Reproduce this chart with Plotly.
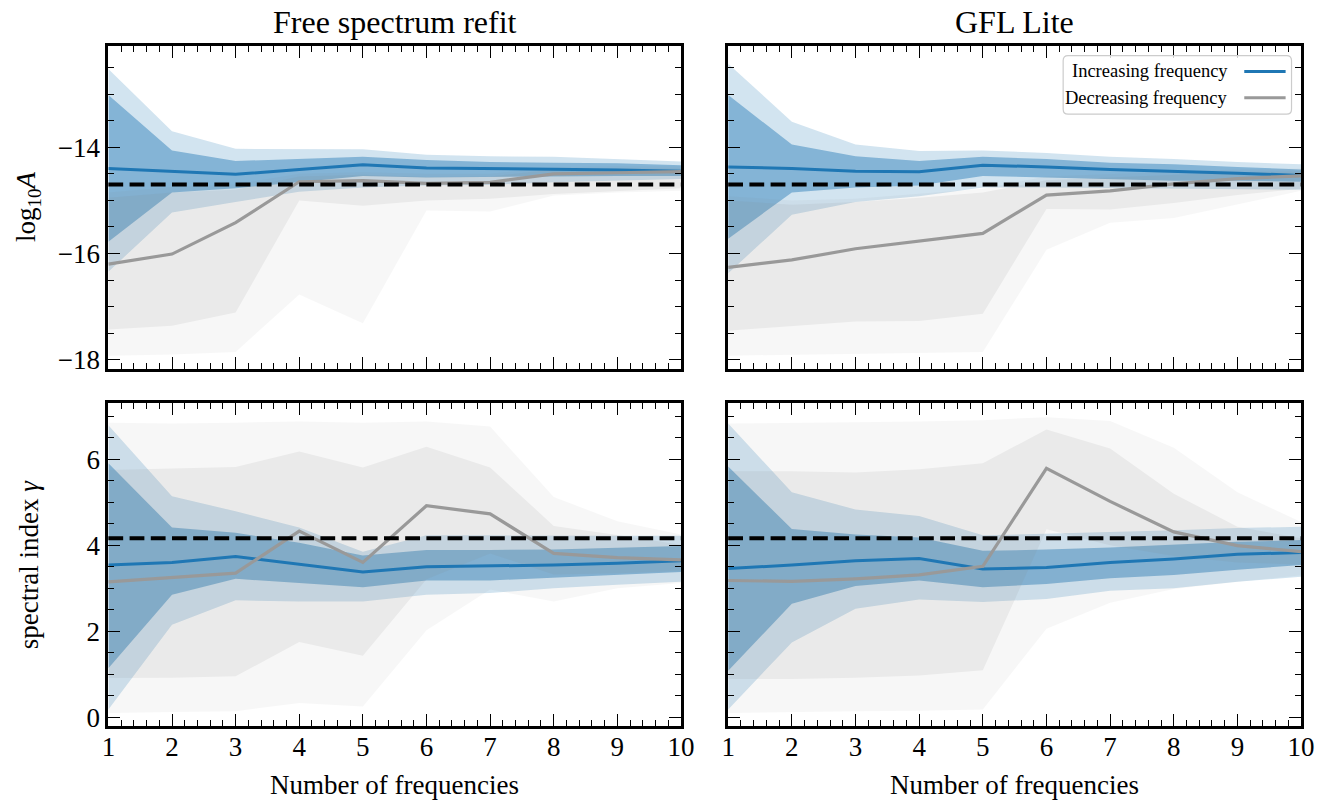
import plotly.graph_objects as go
from plotly.subplots import make_subplots

W, H = 1338, 802

# ---------------- data ----------------
N = [1, 2, 3, 4, 5, 6, 7, 8, 9, 10]

TRUE_LOG10A = -14.7
TRUE_GAMMA = 4.16

# Free spectrum refit, log10 A
inc_med_A_fs = [-14.40, -14.45, -14.51, -14.42, -14.33, -14.39, -14.40, -14.42, -14.43, -14.45]
inc_1hi_A_fs = [-13.02, -14.06, -14.26, -14.22, -14.18, -14.24, -14.28, -14.29, -14.30, -14.34]
inc_1lo_A_fs = [-15.78, -14.85, -14.77, -14.66, -14.54, -14.57, -14.57, -14.55, -14.54, -14.54]
inc_2hi_A_fs = [-12.53, -13.70, -14.03, -14.04, -14.04, -14.14, -14.17, -14.18, -14.22, -14.27]
inc_2lo_A_fs = [-16.34, -15.23, -15.03, -14.84, -14.76, -14.72, -14.71, -14.66, -14.63, -14.60]
dec_med_A_fs = [-16.20, -16.01, -15.42, -14.65, -14.63, -14.68, -14.66, -14.50, -14.48, -14.46]
dec_1hi_A_fs = [-14.95, -14.85, -14.80, -14.55, -14.52, -14.56, -14.55, -14.42, -14.40, -14.40]
dec_1lo_A_fs = [-17.43, -17.36, -17.11, -15.00, -15.10, -15.00, -14.97, -14.88, -14.82, -14.77]
dec_2hi_A_fs = [-14.85, -14.75, -14.70, -14.50, -14.47, -14.50, -14.50, -14.38, -14.36, -14.36]
dec_2lo_A_fs = [-17.92, -17.90, -17.85, -16.77, -17.31, -15.19, -15.21, -14.91, -14.85, -14.82]

# GFL Lite, log10 A
inc_med_A_gfl = [-14.37, -14.40, -14.45, -14.46, -14.34, -14.37, -14.42, -14.45, -14.49, -14.53]
inc_1hi_A_gfl = [-13.02, -13.95, -14.17, -14.26, -14.18, -14.22, -14.29, -14.32, -14.37, -14.42]
inc_1lo_A_gfl = [-15.72, -14.85, -14.76, -14.72, -14.54, -14.57, -14.60, -14.63, -14.63, -14.65]
inc_2hi_A_gfl = [-12.43, -13.52, -13.95, -14.07, -14.06, -14.11, -14.18, -14.22, -14.28, -14.32]
inc_2lo_A_gfl = [-16.37, -15.27, -15.03, -14.92, -14.76, -14.76, -14.76, -14.77, -14.79, -14.80]
dec_med_A_gfl = [-16.26, -16.12, -15.91, -15.77, -15.62, -14.90, -14.82, -14.69, -14.59, -14.54]
dec_1hi_A_gfl = [-15.00, -15.08, -15.03, -14.95, -14.85, -14.62, -14.57, -14.52, -14.47, -14.45]
dec_1lo_A_gfl = [-17.45, -17.36, -17.28, -17.27, -17.13, -15.16, -15.17, -15.05, -14.90, -14.78]
dec_2hi_A_gfl = [-14.92, -15.00, -14.97, -14.88, -14.78, -14.55, -14.50, -14.46, -14.42, -14.40]
dec_2lo_A_gfl = [-17.92, -17.90, -17.88, -17.87, -17.85, -15.93, -15.42, -15.33, -15.07, -14.82]

# Free spectrum refit, gamma
inc_med_g_fs = [3.54, 3.60, 3.74, 3.56, 3.38, 3.50, 3.52, 3.54, 3.58, 3.64]
inc_1hi_g_fs = [5.91, 4.41, 4.29, 4.06, 3.76, 3.89, 3.89, 3.90, 3.94, 3.98]
inc_1lo_g_fs = [1.14, 2.85, 3.22, 3.12, 3.02, 3.18, 3.18, 3.25, 3.31, 3.38]
inc_2hi_g_fs = [6.79, 5.14, 4.79, 4.41, 3.85, 4.23, 4.23, 4.22, 4.22, 4.22]
inc_2lo_g_fs = [0.18, 2.15, 2.72, 2.69, 2.69, 2.85, 2.89, 3.00, 3.08, 3.15]
dec_med_g_fs = [3.15, 3.25, 3.35, 4.33, 3.60, 4.92, 4.73, 3.81, 3.71, 3.66]
dec_1hi_g_fs = [5.75, 5.79, 5.82, 6.18, 5.81, 6.29, 5.81, 4.45, 4.24, 4.01]
dec_1lo_g_fs = [0.91, 0.92, 0.95, 1.75, 1.43, 3.21, 3.81, 3.32, 3.35, 3.40]
dec_2hi_g_fs = [6.85, 6.83, 6.85, 6.88, 6.85, 6.88, 6.76, 5.12, 4.56, 4.25]
dec_2lo_g_fs = [0.10, 0.12, 0.14, 0.33, 0.25, 2.02, 2.97, 2.69, 3.00, 3.12]

# GFL Lite, gamma
inc_med_g_gfl = [3.46, 3.54, 3.64, 3.69, 3.45, 3.48, 3.60, 3.68, 3.79, 3.83]
inc_1hi_g_gfl = [5.83, 4.38, 4.25, 4.18, 3.87, 3.90, 3.95, 4.02, 4.08, 4.12]
inc_1lo_g_gfl = [1.08, 2.64, 3.05, 3.18, 3.02, 3.10, 3.23, 3.31, 3.43, 3.54]
inc_2hi_g_gfl = [6.83, 5.23, 4.83, 4.68, 4.23, 4.27, 4.30, 4.35, 4.40, 4.43]
inc_2lo_g_gfl = [0.18, 1.74, 2.52, 2.74, 2.68, 2.75, 2.94, 3.00, 3.15, 3.27]
dec_med_g_gfl = [3.18, 3.16, 3.22, 3.31, 3.51, 5.79, 5.02, 4.31, 3.99, 3.85]
dec_1hi_g_gfl = [5.72, 5.72, 5.69, 5.77, 5.91, 6.69, 6.25, 5.20, 4.43, 4.16]
dec_1lo_g_gfl = [0.89, 0.89, 0.92, 0.97, 1.09, 4.37, 4.00, 3.75, 3.60, 3.55]
dec_2hi_g_gfl = [6.83, 6.84, 6.86, 6.88, 6.91, 6.98, 6.89, 6.27, 5.23, 4.54]
dec_2lo_g_gfl = [0.10, 0.12, 0.14, 0.15, 0.18, 2.06, 2.66, 2.98, 3.15, 3.30]

col_titles = ["Free spectrum refit", "GFL Lite"]
legend_labels = ["Increasing frequency", "Decreasing frequency"]
x_title = "Number of frequencies"
y_titles = ["log<sub>10</sub><i>A</i>", "spectral index <i>γ</i>"]
x_ticks = [1, 2, 3, 4, 5, 6, 7, 8, 9, 10]
y_ticks_A = [-18, -16, -14]
y_ticks_g = [0, 2, 4, 6]

# ---------------- style ----------------
FONT = "Liberation Serif, Times New Roman, serif"
BLUE = "#1f77b4"
GREY_LINE = "#999999"
BLUE_2S = "rgba(31,119,180,0.20)"
BLUE_1S = "rgba(31,119,180,0.44)"
GREY_2S = "rgba(128,128,128,0.063)"
GREY_1S = "rgba(128,128,128,0.10)"


def px(x):
    return x / W


def py(y):
    return 1 - y / H


def fmt(v):
    return ("\u2212" if v < 0 else "") + str(abs(v))


fig = make_subplots(rows=2, cols=2)

panels = [
    (1, 1, inc_med_A_fs, inc_1lo_A_fs, inc_1hi_A_fs, inc_2lo_A_fs, inc_2hi_A_fs,
     dec_med_A_fs, dec_1lo_A_fs, dec_1hi_A_fs, dec_2lo_A_fs, dec_2hi_A_fs),
    (1, 2, inc_med_A_gfl, inc_1lo_A_gfl, inc_1hi_A_gfl, inc_2lo_A_gfl, inc_2hi_A_gfl,
     dec_med_A_gfl, dec_1lo_A_gfl, dec_1hi_A_gfl, dec_2lo_A_gfl, dec_2hi_A_gfl),
    (2, 1, inc_med_g_fs, inc_1lo_g_fs, inc_1hi_g_fs, inc_2lo_g_fs, inc_2hi_g_fs,
     dec_med_g_fs, dec_1lo_g_fs, dec_1hi_g_fs, dec_2lo_g_fs, dec_2hi_g_fs),
    (2, 2, inc_med_g_gfl, inc_1lo_g_gfl, inc_1hi_g_gfl, inc_2lo_g_gfl, inc_2hi_g_gfl,
     dec_med_g_gfl, dec_1lo_g_gfl, dec_1hi_g_gfl, dec_2lo_g_gfl, dec_2hi_g_gfl),
]


def band(lo, hi, color):
    return go.Scatter(x=N + N[::-1], y=list(hi) + list(lo)[::-1], fill="toself",
                      fillcolor=color, line=dict(width=0), mode="lines",
                      hoverinfo="skip", showlegend=False)


for (r, c, im, i1l, i1h, i2l, i2h, dm, d1l, d1h, d2l, d2h) in panels:
    fig.add_trace(band(i2l, i2h, BLUE_2S), row=r, col=c)
    fig.add_trace(band(i1l, i1h, BLUE_1S), row=r, col=c)
    fig.add_trace(band(d2l, d2h, GREY_2S), row=r, col=c)
    fig.add_trace(band(d1l, d1h, GREY_1S), row=r, col=c)
    fig.add_trace(go.Scatter(x=N, y=im, mode="lines", line=dict(color=BLUE, width=3),
                             showlegend=False), row=r, col=c)
    fig.add_trace(go.Scatter(x=N, y=dm, mode="lines", line=dict(color=GREY_LINE, width=3.2),
                             showlegend=False), row=r, col=c)
    fig.add_hline(y=TRUE_LOG10A if r == 1 else TRUE_GAMMA, row=r, col=c,
                  line=dict(color="black", width=4, dash="14.8px,6.4px"))

xd = [[px(103), px(684.7)], [px(732.7), px(1314.7)]]
yd = [[py(371.7), py(46)], [py(731.7), py(406)]]

axis_common = dict(showline=True, linecolor="black", linewidth=3, mirror="allticks",
                   ticks="inside", ticklen=12, tickwidth=1.4, tickcolor="black",
                   showgrid=False, zeroline=False,
                   tickfont=dict(family=FONT, size=27, color="black"))

for r in (1, 2):
    for c in (1, 2):
        idx = (r - 1) * 2 + c
        xa = "xaxis" if idx == 1 else f"xaxis{idx}"
        ya = "yaxis" if idx == 1 else f"yaxis{idx}"
        fig.layout[xa].update(domain=xd[c - 1], range=[1, 10], tickmode="array",
                              tickvals=x_ticks, ticktext=[fmt(v) for v in x_ticks],
                              showticklabels=(r == 2), ticklabelstandoff=-6,
                              minor=dict(ticks="inside", ticklen=6, tickwidth=1.2,
                                         tickcolor="black", dtick=0.2, tick0=1,
                                         showgrid=False),
                              **axis_common)
        if r == 1:
            yr, t0, tv = [-18.17, -12.09], -18, y_ticks_A
        else:
            yr, t0, tv = [-0.21, 7.31], 0, y_ticks_g
        fig.layout[ya].update(domain=yd[r - 1], range=yr, tickmode="array",
                              tickvals=tv, ticktext=[fmt(v) for v in tv],
                              showticklabels=(c == 1),
                              minor=dict(ticks="inside", ticklen=6, tickwidth=1.2,
                                         tickcolor="black", dtick=0.5, tick0=t0,
                                         showgrid=False),
                              **axis_common)

annotations = []
for c, t in enumerate(col_titles):
    annotations.append(dict(text=t, x=sum(xd[c]) / 2, y=py(22), xref="paper", yref="paper",
                            xanchor="center", yanchor="middle", showarrow=False,
                            font=dict(family=FONT, size=32, color="black")))
for c in range(2):
    annotations.append(dict(text=x_title, x=sum(xd[c]) / 2, y=py(791), xref="paper",
                            yref="paper", xanchor="center", yanchor="middle", showarrow=False,
                            font=dict(family=FONT, size=27, color="black")))
for r, t in enumerate(y_titles):
    annotations.append(dict(text=t, x=px(22), y=sum(yd[r]) / 2, xref="paper", yref="paper",
                            xanchor="center", yanchor="middle", textangle=-90, showarrow=False,
                            font=dict(family=FONT, size=27, color="black")))

# legend (label then line sample, as in the original)
shapes = []
lx0, lx1, ly0, ly1, rad = 1073, 1305, 56, 115, 5
path = (f"M {px(lx0 + rad)},{py(ly0)} L {px(lx1 - rad)},{py(ly0)} "
        f"Q {px(lx1)},{py(ly0)} {px(lx1)},{py(ly0 + rad)} L {px(lx1)},{py(ly1 - rad)} "
        f"Q {px(lx1)},{py(ly1)} {px(lx1 - rad)},{py(ly1)} L {px(lx0 + rad)},{py(ly1)} "
        f"Q {px(lx0)},{py(ly1)} {px(lx0)},{py(ly1 - rad)} L {px(lx0)},{py(ly0 + rad)} "
        f"Q {px(lx0)},{py(ly0)} {px(lx0 + rad)},{py(ly0)} Z")
shapes.append(dict(type="path", path=path, xref="paper", yref="paper",
                   fillcolor="rgba(255,255,255,0.8)", line=dict(color="#cccccc", width=1.2),
                   layer="above"))
for i, (lab, colr) in enumerate(zip(legend_labels, [BLUE, GREY_LINE])):
    yy = 72 + i * 26.5
    annotations.append(dict(text=lab, x=px(1243), y=py(yy), xref="paper", yref="paper",
                            xanchor="right", yanchor="middle", showarrow=False,
                            font=dict(family=FONT, size=18.5, color="black")))
    shapes.append(dict(type="line", x0=px(1257), x1=px(1299), y0=py(yy), y1=py(yy),
                       xref="paper", yref="paper", line=dict(color=colr, width=3),
                       layer="above"))

fig.update_layout(width=W, height=H, margin=dict(l=0, r=0, t=0, b=0),
                  plot_bgcolor="white", paper_bgcolor="white", showlegend=False,
                  annotations=list(fig.layout.annotations) + annotations,
                  shapes=list(fig.layout.shapes) + shapes,
                  font=dict(family=FONT, color="black"))

fig.write_html("out.html", config={"displayModeBar": False},
               post_script="document.body.style.margin='0px';"
                           "document.body.style.overflow='hidden';")
